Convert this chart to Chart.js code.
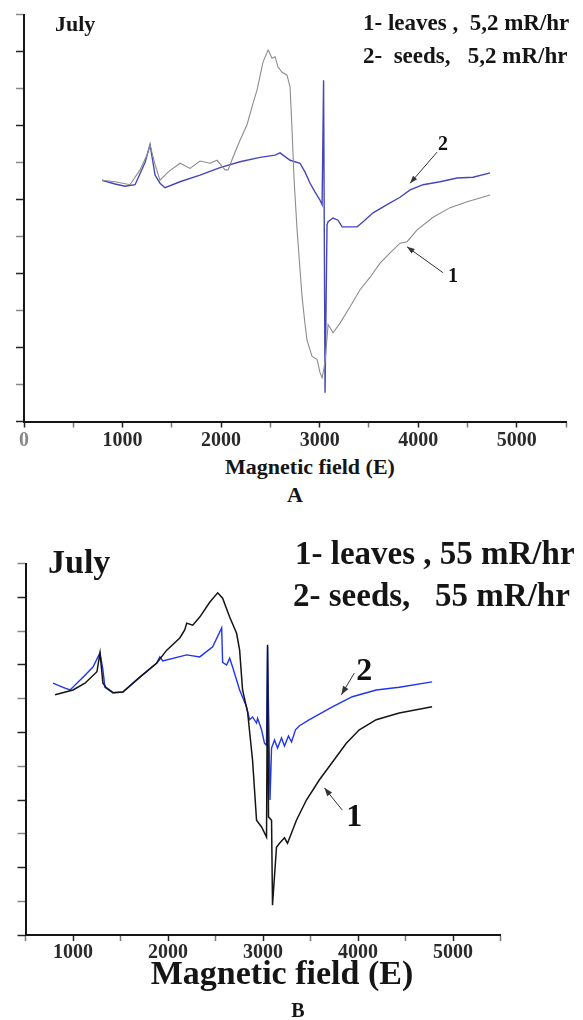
<!DOCTYPE html>
<html>
<head>
<meta charset="utf-8">
<script src="https://cdn.jsdelivr.net/npm/chart.js@4.4.1/dist/chart.umd.min.js"></script>
<style>
  html, body { margin: 0; padding: 0; background: #fff; }
  body { width: 583px; height: 1020px; position: relative; overflow: hidden;
         font-family: "Liberation Serif", "Times New Roman", serif; font-weight: bold; color: #151515; }
  canvas { position: absolute; left: 0; }
  .txt { position: absolute; white-space: pre; line-height: 1; }
  .mid { transform: translateX(-50%); }
</style>
</head>
<body>
<canvas id="chartA" width="583" height="452" style="top:0"></canvas>
<canvas id="chartB" width="583" height="430" style="top:540px"></canvas>

<div class="txt" style="left:55px;top:12.6px;font-size:22px">July</div>
<div class="txt" style="left:363px;top:10.7px;font-size:23px">1- leaves ,  5,2 mR/hr</div>
<div class="txt" style="left:363px;top:43.7px;font-size:23px">2-  seeds,   5,2 mR/hr</div>
<div class="txt mid" style="left:310px;top:456px;font-size:22px">Magnetic field (E)</div>
<div class="txt mid" style="left:295px;top:484px;font-size:22px">A</div>

<div class="txt" style="left:48px;top:544.5px;font-size:34px">July</div>
<div class="txt" style="left:295px;top:536.5px;font-size:33px">1- leaves , 55 mR/hr</div>
<div class="txt" style="left:293px;top:579.4px;font-size:33px">2- seeds,   55 mR/hr</div>
<div class="txt mid" style="left:282px;top:956px;font-size:34px">Magnetic field (E)</div>
<div class="txt mid" style="left:298px;top:1000px;font-size:20px">B</div>

<script>
// Panel A - July, 5,2 mR/hr (field in Oe, signal in axis tick units)
const aLeavesField = [792, 924, 1076, 1177, 1248, 1279, 1330, 1380, 1462, 1583, 1685, 1786, 1888, 1959, 2040, 2071, 2121, 2192, 2263, 2324, 2365, 2426, 2477, 2517, 2548, 2578, 2619, 2669, 2700, 2720, 2741, 2771, 2801, 2822, 2852, 2872, 2923, 2974, 3004, 3025, 3055, 3086, 3136, 3207, 3309, 3410, 3512, 3613, 3715, 3816, 3887, 3989, 4151, 4324, 4496, 4730];
const aLeaves = [3.26, 3.24, 3.20, 3.40, 3.60, 3.74, 3.47, 3.26, 3.37, 3.49, 3.42, 3.52, 3.49, 3.53, 3.40, 3.40, 3.57, 3.80, 4.01, 4.30, 4.48, 4.86, 5.02, 4.91, 4.93, 4.79, 4.72, 4.68, 4.52, 3.94, 3.26, 2.59, 2.05, 1.68, 1.31, 1.10, 0.88, 0.84, 0.66, 0.59, 0.80, 1.31, 1.20, 1.33, 1.55, 1.78, 1.95, 2.14, 2.28, 2.41, 2.43, 2.59, 2.76, 2.89, 2.97, 3.06];

const aSeedsField = [792, 924, 1025, 1127, 1228, 1279, 1330, 1380, 1431, 1583, 1786, 1989, 2192, 2395, 2548, 2598, 2700, 2801, 2852, 2903, 2954, 3004, 3025, 3040, 3055, 3075, 3086, 3136, 3187, 3228, 3309, 3380, 3441, 3542, 3684, 3816, 3918, 4050, 4222, 4395, 4557, 4730];
const aSeeds = [3.26, 3.21, 3.18, 3.20, 3.50, 3.74, 3.33, 3.22, 3.16, 3.24, 3.33, 3.43, 3.51, 3.57, 3.60, 3.63, 3.53, 3.49, 3.37, 3.22, 3.10, 2.99, 2.93, 4.61, 0.39, 2.66, 2.70, 2.75, 2.72, 2.63, 2.63, 2.63, 2.70, 2.82, 2.93, 3.03, 3.13, 3.20, 3.24, 3.29, 3.30, 3.36];

// Panel B - July, 55 mR/hr
const bLeavesField = [811, 1000, 1126, 1252, 1284, 1315, 1347, 1420, 1525, 1704, 1882, 1987, 2124, 2176, 2197, 2260, 2334, 2439, 2523, 2575, 2649, 2722, 2754, 2785, 2838, 2890, 2932, 2985, 3037, 3048, 3058, 3090, 3100, 3142, 3174, 3226, 3258, 3300, 3352, 3457, 3594, 3730, 3877, 4014, 4192, 4434, 4780];
const bLeaves = [3.56, 3.63, 3.73, 3.90, 4.18, 3.73, 3.67, 3.59, 3.60, 3.82, 4.03, 4.22, 4.40, 4.52, 4.62, 4.59, 4.71, 4.93, 5.07, 4.99, 4.71, 4.47, 4.22, 3.63, 3.30, 2.59, 1.70, 1.60, 1.45, 4.30, 1.75, 1.70, 0.44, 1.30, 1.36, 1.44, 1.36, 1.51, 1.70, 2.00, 2.30, 2.56, 2.84, 3.04, 3.19, 3.29, 3.38];

const bSeedsField = [790, 895, 969, 1105, 1210, 1284, 1315, 1336, 1420, 1525, 1704, 1882, 1914, 1945, 2197, 2334, 2470, 2565, 2575, 2617, 2649, 2680, 2754, 2827, 2859, 2890, 2932, 2943, 2985, 3016, 3037, 3048, 3074, 3090, 3121, 3153, 3195, 3226, 3268, 3300, 3342, 3384, 3489, 3730, 3940, 4192, 4434, 4780];
const bSeeds = [3.73, 3.67, 3.63, 3.82, 3.97, 4.18, 3.93, 3.67, 3.59, 3.60, 3.82, 4.03, 4.12, 4.06, 4.15, 4.12, 4.27, 4.55, 4.04, 4.00, 4.10, 3.97, 3.63, 3.38, 3.19, 3.23, 3.14, 3.21, 3.04, 2.84, 2.81, 4.27, 2.00, 2.77, 2.89, 2.77, 2.92, 2.80, 2.95, 2.86, 3.04, 3.10, 3.19, 3.38, 3.53, 3.63, 3.67, 3.75];

// x axis tick labels
const fieldTicks = [0, 1000, 2000, 3000, 4000, 5000];

// curve number labels with arrows (data coordinates)
const aNotes = [
  { text: '2', at: [4253, 3.74], from: [4192, 3.64], to: [3918, 3.22] },
  { text: '1', at: [4354, 1.95], from: [4253, 2.01], to: [3887, 2.36] }
];
const bNotes = [
  { text: '2', at: [4066, 3.90], from: [3961, 3.88], to: [3825, 3.56] },
  { text: '1', at: [3961, 1.73], from: [3835, 1.85], to: [3646, 2.18] }
];

function pts(xs, ys) {
  return xs.map((x, i) => ({ x: x, y: ys[i] }));
}

// draws the "1" / "2" labels and their arrows
const notesPlugin = {
  id: 'notes',
  afterDatasetsDraw(chart, args, opts) {
    const ctx = chart.ctx;
    const xs = chart.scales.x, ys = chart.scales.y;
    ctx.save();
    (opts.items || []).forEach(n => {
      const x1 = xs.getPixelForValue(n.from[0]), y1 = ys.getPixelForValue(n.from[1]);
      const x2 = xs.getPixelForValue(n.to[0]), y2 = ys.getPixelForValue(n.to[1]);
      ctx.strokeStyle = '#333';
      ctx.fillStyle = '#333';
      ctx.lineWidth = 1;
      ctx.beginPath();
      ctx.moveTo(x1, y1);
      ctx.lineTo(x2, y2);
      ctx.stroke();
      const ang = Math.atan2(y2 - y1, x2 - x1);
      const hl = opts.head;
      ctx.beginPath();
      ctx.moveTo(x2, y2);
      ctx.lineTo(x2 - hl * Math.cos(ang - 0.35), y2 - hl * Math.sin(ang - 0.35));
      ctx.lineTo(x2 - hl * Math.cos(ang + 0.35), y2 - hl * Math.sin(ang + 0.35));
      ctx.closePath();
      ctx.fill();
      ctx.fillStyle = '#111';
      ctx.font = 'bold ' + opts.size + 'px "Liberation Serif", serif';
      ctx.textAlign = 'center';
      ctx.textBaseline = 'middle';
      ctx.fillText(n.text, xs.getPixelForValue(n.at[0]), ys.getPixelForValue(n.at[1]));
    });
    ctx.restore();
  }
};

function makeChart(id, cfg) {
  return new Chart(document.getElementById(id), {
    type: 'scatter',
    data: { datasets: cfg.datasets },
    options: {
      responsive: false,
      animation: false,
      layout: { padding: cfg.padding },
      plugins: {
        legend: { display: false },
        tooltip: { enabled: false },
        notes: { items: cfg.notes, size: cfg.noteSize, head: cfg.head }
      },
      scales: {
        x: {
          type: 'linear',
          min: cfg.xMin,
          max: 5500,
          afterBuildTicks: s => {
            const t = [];
            for (let v = cfg.xMin; v <= 5500; v += 500) t.push({ value: v });
            s.ticks = t;
          },
          afterFit: s => { s.height = cfg.xHeight; },
          ticks: {
            autoSkip: false,
            maxRotation: 0,
            padding: cfg.tickPad,
            color: c => c.tick && c.tick.value === 0 ? '#888' : '#2a2a2a',
            font: { family: '"Liberation Serif", serif', weight: 'bold', size: cfg.tickSize },
            callback: v => fieldTicks.includes(v) ? String(v) : ''
          },
          grid: {
            drawOnChartArea: false,
            drawTicks: true,
            tickLength: 6,
            tickWidth: 1.5,
            tickColor: c => c.tick && c.tick.value % 1000 === 0 ? '#222' : '#777'
          },
          border: { display: true, color: '#151515', width: 2 }
        },
        y: {
          min: 0,
          max: 5.5,
          afterBuildTicks: s => {
            const t = [];
            for (let v = 0; v <= 5.5; v += 0.5) t.push({ value: v });
            s.ticks = t;
          },
          afterFit: s => { s.width = cfg.yWidth; },
          ticks: { display: false },
          grid: {
            drawOnChartArea: false,
            drawTicks: true,
            tickLength: 8,
            tickWidth: 1.5,
            tickColor: c => c.tick && Number.isInteger(c.tick.value) ? '#222' : '#888'
          },
          border: { display: true, color: '#151515', width: 2 }
        }
      }
    },
    plugins: [notesPlugin]
  });
}

makeChart('chartA', {
  xMin: 0,
  padding: { left: 0, top: 14.5, right: 17, bottom: 0 },
  xHeight: 30.5,
  yWidth: 24,
  tickPad: 1,
  tickSize: 20,
  notes: aNotes,
  noteSize: 20,
  head: 8,
  datasets: [
    { label: '1- leaves', data: pts(aLeavesField, aLeaves), showLine: true, pointRadius: 0,
      borderColor: '#8c8c8c', borderWidth: 1.1, tension: 0 },
    { label: '2- seeds', data: pts(aSeedsField, aSeeds), showLine: true, pointRadius: 0,
      borderColor: '#4547b8', borderWidth: 1.4, tension: 0 }
  ]
});

makeChart('chartB', {
  xMin: 500,
  padding: { left: 0, top: 23.75, right: 82.5, bottom: 0 },
  xHeight: 35,
  yWidth: 25.5,
  tickPad: 0,
  tickSize: 20,
  notes: bNotes,
  noteSize: 32,
  head: 9,
  datasets: [
    { label: '1- leaves', data: pts(bLeavesField, bLeaves), showLine: true, pointRadius: 0,
      borderColor: '#151515', borderWidth: 1.5, tension: 0 },
    { label: '2- seeds', data: pts(bSeedsField, bSeeds), showLine: true, pointRadius: 0,
      borderColor: '#1f35f0', borderWidth: 1.4, tension: 0 }
  ]
});
</script>
</body>
</html>
